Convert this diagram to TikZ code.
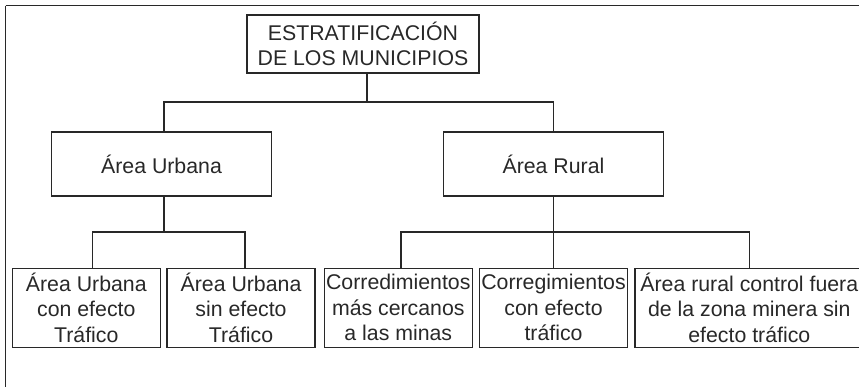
\documentclass[tikz,border=0pt]{standalone}
\usepackage{fontspec}
\setmainfont{Liberation Sans}
\definecolor{ink}{RGB}{40,40,40}
\begin{document}
\begin{tikzpicture}[x=1pt,y=1pt,
  box/.style={draw=ink, line width=1.5pt, text=ink, inner sep=0pt, align=center,
    font=\fontsize{21.3}{25.5}\selectfont, anchor=center},
  link/.style={draw=ink, line width=1.5pt}]
\useasboundingbox (0,0) rectangle (859,-386);
% outer frame (only top and left sides are visible)
\draw[link] (5.5,-5.5) -- (870,-5.5);
\draw[link] (5.5,-5.5) -- (5.5,-400);
% nodes
\node[box, minimum width=232pt, minimum height=58pt] (top) at (363,-44) {ESTRATIFICACIÓN\\DE LOS MUNICIPIOS};
\node[box, minimum width=220pt, minimum height=64pt] (urb) at (161.5,-164) {Área Urbana};
\node[box, minimum width=220pt, minimum height=64pt] (rur) at (553.5,-164) {Área Rural};
\node[box, minimum width=148pt, minimum height=79pt] (b1) at (86.3,-307.8) {Área Urbana\\con efecto\\Tráfico};
\node[box, minimum width=148pt, minimum height=79pt] (b2) at (241,-307.8) {Área Urbana\\sin efecto\\Tráfico};
\node[box, minimum width=148pt, minimum height=79pt] (b3) at (398.3,-307.8) {Corredimientos\\más cercanos\\a las minas};
\node[box, minimum width=148pt, minimum height=79pt] (b4) at (553.5,-307.8) {Corregimientos\\con efecto\\tráfico};
\node[box, minimum width=229pt, minimum height=79pt] (b5) at (749.3,-307.8) {Área rural control fuera\\de la zona minera sin\\efecto tráfico};
% junctions
\coordinate (h1) at (367,-102);
\coordinate (h2) at (164,-232);
\coordinate (h3) at (553.5,-232);
% connectors
\draw[link] ([xshift=4pt]top.south) -- (h1);
\draw[link] ([xshift=2.5pt]urb.north) |- (h1) -| (rur.north);
\draw[link] ([xshift=2.5pt]urb.south) -- (h2);
\draw[link] ([xshift=6.4pt]b1.north) |- (h2) -| ([xshift=4pt]b2.north);
\draw[link] (rur.south) -- (h3) -- (b4.north);
\draw[link] ([xshift=2.7pt]b3.north) |- (h3) -| (b5.north);
\end{tikzpicture}
\end{document}
